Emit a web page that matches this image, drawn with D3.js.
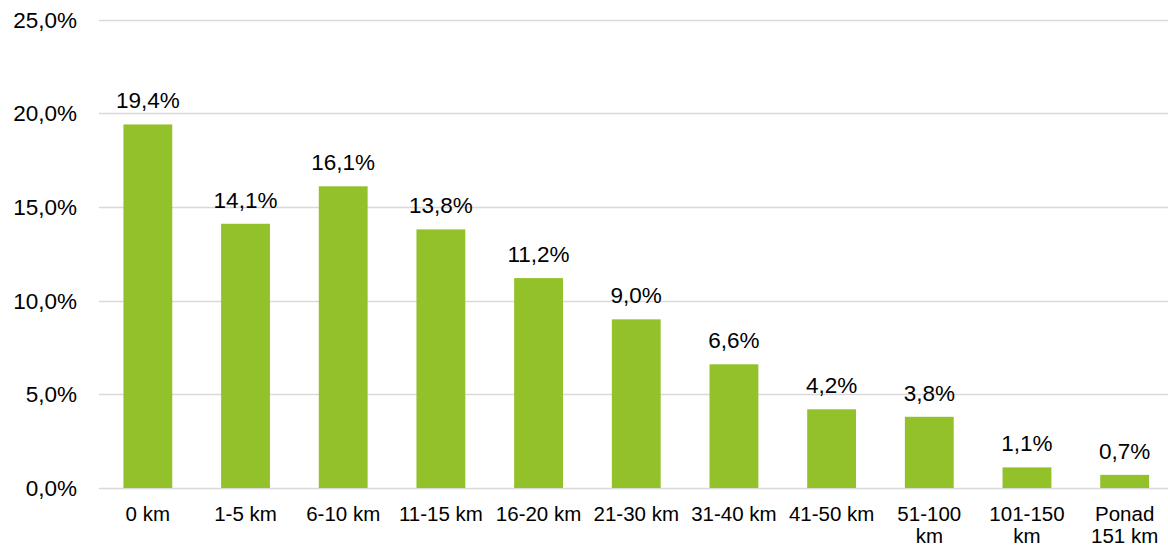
<!DOCTYPE html>
<meta charset="utf-8">
<style>
  body { margin: 0; background: #fff; }
  text { font-family: "Liberation Sans", Arial, sans-serif; fill: #000; }
</style>
<script src="https://d3js.org/d3.v7.min.js"></script>
<body>
<script>
// categories and values (percent)
var categories = ["0 km", "1-5 km", "6-10 km", "11-15 km", "16-20 km", "21-30 km",
  "31-40 km", "41-50 km", "51-100 km", "101-150 km", "Ponad 151 km"];
var values = [19.4, 14.1, 16.1, 13.8, 11.2, 9.0, 6.6, 4.2, 3.8, 1.1, 0.7];
var yTicks = [0, 5, 10, 15, 20, 25];
// labels that wrap onto two lines
var catLines = [["0 km"], ["1-5 km"], ["6-10 km"], ["11-15 km"], ["16-20 km"], ["21-30 km"],
  ["31-40 km"], ["41-50 km"], ["51-100", "km"], ["101-150", "km"], ["Ponad", "151 km"]];

var width = 1168, height = 547;
var fmt = function(v) { return v.toFixed(1).replace(".", ",") + "%"; };

var svg = d3.select("body").append("svg")
    .attr("width", width)
    .attr("height", height);

var x = d3.scaleBand()
    .domain(categories)
    .range([99, 1173.5])
    .paddingInner(0.5)
    .paddingOuter(0.25);

var y = d3.scaleLinear()
    .domain([0, 25])
    .range([488, 19.5]);

// gridlines
svg.selectAll(".grid")
    .data(yTicks)
    .enter().append("line")
    .attr("x1", 99)
    .attr("x2", width)
    .attr("y1", function(d) { return Math.round(y(d)) + 0.5; })
    .attr("y2", function(d) { return Math.round(y(d)) + 0.5; })
    .attr("stroke", "#d9d9d9")
    .attr("stroke-width", 1.5);

// y tick labels
svg.selectAll(".ytick")
    .data(yTicks)
    .enter().append("text")
    .attr("x", 77)
    .attr("y", function(d) { return y(d) + 8; })
    .attr("text-anchor", "end")
    .attr("font-size", 22.5)
    .text(fmt);

// bars
svg.selectAll(".bar")
    .data(values)
    .enter().append("rect")
    .attr("x", function(d, i) { return x(categories[i]); })
    .attr("width", x.bandwidth())
    .attr("y", function(d) { return y(d); })
    .attr("height", function(d) { return y(0) - y(d); })
    .attr("fill", "#92c12a");

// value labels
svg.selectAll(".val")
    .data(values)
    .enter().append("text")
    .attr("x", function(d, i) { return x(categories[i]) + x.bandwidth() / 2; })
    .attr("y", function(d) { return y(d) - 16; })
    .attr("text-anchor", "middle")
    .attr("font-size", 22.5)
    .text(fmt);

// category labels
var cat = svg.selectAll(".cat")
    .data(catLines)
    .enter().append("text")
    .attr("text-anchor", "middle")
    .attr("font-size", 20.5);

cat.selectAll("tspan")
    .data(function(d, i) { return d.map(function(s) { return { s: s, i: i }; }); })
    .enter().append("tspan")
    .attr("x", function(d) { return x(categories[d.i]) + x.bandwidth() / 2; })
    .attr("y", function(d, j) { return 521 + j * 22; })
    .text(function(d) { return d.s; });
</script>
</body>
